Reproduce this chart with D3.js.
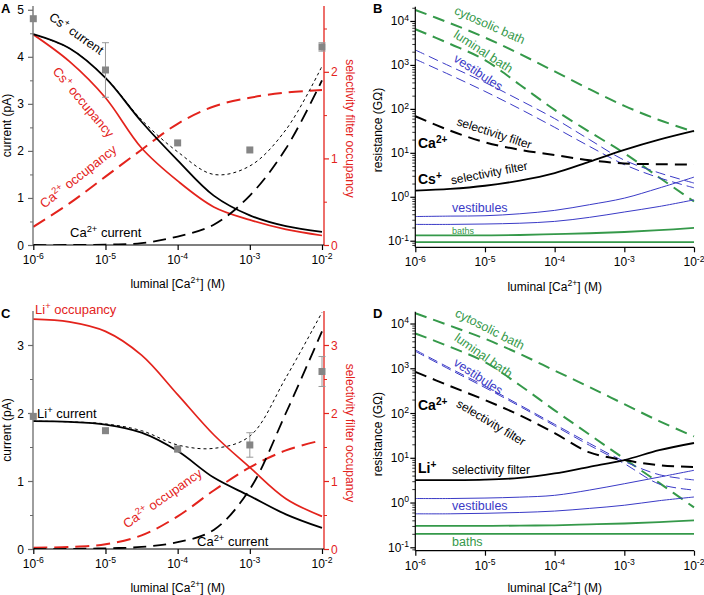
<!DOCTYPE html>
<html><head><meta charset="utf-8">
<script src="https://cdn.jsdelivr.net/npm/d3@7"></script>
<style>body{margin:0;background:#fff} svg{display:block;font-family:"Liberation Sans",Arial,Helvetica,sans-serif}</style>
</head><body><svg id="c" width="704" height="595"></svg>
<script>
// ---------- shared ----------
const conc = [1e-6, 3.162e-6, 1e-5, 3.162e-5, 1e-4, 3.162e-4, 1e-3, 3.162e-3, 1e-2];
const xTicks = [1e-6, 1e-5, 1e-4, 1e-3, 1e-2];
const xTickLabels = ["10^{-6}", "10^{-5}", "10^{-4}", "10^{-3}", "10^{-2}"];
const xTitle = "luminal [Ca^{2+}] (M)";

// ---------- panel A (Cs+) ----------
const csCurrentA = [4.48, 4.18, 3.55, 2.62, 1.80, 1.05, 0.63, 0.40, 0.28];
const caCurrentA = [0, 0, 0.01, 0.04, 0.18, 0.43, 1.05, 2.05, 3.50];
const totalCurrentA = [4.48, 4.18, 3.56, 2.66, 1.98, 1.50, 1.68, 2.45, 3.80];
const csOccA = [2.43, 2.12, 1.70, 1.12, 0.74, 0.44, 0.29, 0.18, 0.11];
const caOccA = [0.21, 0.48, 0.79, 1.10, 1.40, 1.60, 1.70, 1.76, 1.79];
const expConcA = [1e-6, 1e-5, 1e-4, 1e-3, 1e-2];
const expMeanA = [4.81, 3.72, 2.17, 2.02, 4.21];
const expErrA = [0, 0.58, 0, 0, 0.09];

// ---------- panel C (Li+) ----------
const liCurrentC = [1.88, 1.87, 1.83, 1.71, 1.44, 1.05, 0.78, 0.51, 0.31];
const caCurrentC = [0, 0, 0.01, 0.03, 0.10, 0.28, 0.88, 2.00, 3.20];
const totalCurrentC = [1.88, 1.87, 1.84, 1.74, 1.53, 1.48, 1.66, 2.52, 3.48];
const liOccC = [3.38, 3.34, 3.20, 2.85, 2.27, 1.68, 1.20, 0.74, 0.48];
const caOccC = [0.02, 0.03, 0.07, 0.20, 0.48, 0.86, 1.20, 1.45, 1.60];
const expConcC = [1e-6, 1e-5, 1e-4, 1e-3, 1e-2];
const expMeanC = [1.95, 1.74, 1.47, 1.53, 2.61];
const expErrC = [0, 0, 0.04, 0.18, 0.22];

// ---------- panel B resistances (GOhm), Cs+ ----------
const cytoBathB = [17800, 8900, 4200, 1780, 710, 280, 117, 56, 30];
const lumBathB = [6500, 3000, 1290, 355, 95, 30, 9.8, 2.75, 0.78];
const vestCaB1 = [2190, 930, 400, 158, 60, 20, 6.8, 3.5, 2.05];
const vestCaB2 = [1350, 590, 250, 100, 38, 14, 5.4, 2.7, 1.6];
const sfCaB = [68, 32, 17.4, 11.7, 8.9, 6.8, 5.75, 5.5, 5.4];
const sfCsB = [1.38, 1.51, 1.78, 2.34, 3.47, 6.3, 11.7, 20, 31.6];
const vestCsB1 = [0.355, 0.363, 0.37, 0.41, 0.49, 0.66, 0.93, 1.58, 2.8];
const vestCsB2 = [0.235, 0.235, 0.24, 0.25, 0.275, 0.34, 0.45, 0.6, 0.85];
const bathCsB1 = [0.132, 0.132, 0.132, 0.135, 0.141, 0.148, 0.158, 0.174, 0.195];
const bathCsB2 = [0.093, 0.093, 0.093, 0.093, 0.093, 0.093, 0.093, 0.093, 0.093];

// ---------- panel D resistances (GOhm), Li+ ----------
const cytoBathD = [17000, 8900, 4570, 2090, 890, 380, 158, 66, 30];
const lumBathD = [6000, 3000, 1380, 417, 115, 33, 9.5, 2.75, 0.78];
const vestCaD1 = [2570, 1000, 400, 151, 56, 21, 8.3, 4.2, 3.2];
const vestCaD2 = [2400, 930, 370, 141, 52, 19, 7.4, 2.6, 1.9];
const sfCaD = [830, 400, 195, 89, 35.5, 13.2, 8.9, 6.8, 6.2];
const sfLiD = [3.16, 3.16, 3.24, 3.55, 4.47, 6.3, 8.9, 14.8, 21.4];
const vestLiD1 = [1.23, 1.23, 1.26, 1.32, 1.45, 1.9, 2.63, 3.7, 5.25];
const vestLiD2 = [0.56, 0.56, 0.575, 0.6, 0.645, 0.74, 0.87, 1.1, 1.33];
const bathLiD1 = [0.3, 0.3, 0.3, 0.305, 0.31, 0.325, 0.34, 0.365, 0.4];
const bathLiD2 = [0.2, 0.2, 0.2, 0.2, 0.2, 0.2, 0.2, 0.2, 0.2];

const logTicks = [0.1, 1, 10, 100, 1000, 10000];
const logTickLabels = ["10^{-1}", "10^{0}", "10^{1}", "10^{2}", "10^{3}", "10^{4}"];

// ---------- styles ----------
const RED = "#e3231c", GREEN = "#35994a", BLUE = "#3a3ac6", GRAY = "#858585";
const svg = d3.select("#c");

function rich(sel, str, fs) {
  const parts = str.split(/(\^\{[^}]*\})/).filter(s => s.length);
  let shifted = false;
  parts.forEach(p => {
    if (p.startsWith("^{")) {
      sel.append("tspan").attr("dy", -fs * 0.38).attr("font-size", fs * 0.72).text(p.slice(2, -1));
      shifted = true;
    } else {
      const t = sel.append("tspan").text(p);
      if (shifted) { t.attr("dy", fs * 0.38); shifted = false; }
    }
  });
  return sel;
}
function label(g, str, o) {
  const t = g.append("text")
    .attr("transform", `translate(${o.x},${o.y}) rotate(${o.a || 0})`)
    .attr("text-anchor", o.anchor || "start")
    .attr("font-size", o.fs || 12)
    .attr("font-weight", o.bold ? "bold" : "normal")
    .attr("fill", o.c || "#000");
  rich(t, str, o.fs || 12);
}
let clipId = 0;
function drawLine(g, x, y, ys, st) {
  g.append("path")
    .datum(conc.map((c, i) => [c, ys[i]]))
    .attr("fill", "none")
    .attr("stroke", st.c)
    .attr("stroke-width", st.w)
    .attr("stroke-dasharray", st.d || null)
    .attr("d", d3.line().x(d => x(d[0])).y(d => y(d[1])).curve(d3.curveCatmullRom.alpha(0.5)));
}
function xAxis(g, x, yB, x1, titleY) {
  const ax = g.append("g").attr("transform", `translate(0,${yB})`)
    .call(d3.axisBottom(x).tickValues(xTicks).tickSize(5).tickFormat(""));
  ax.select(".domain").attr("d", `M${x.range()[0]},0H${x1}`).attr("stroke", "#000").attr("stroke-width", 1.2);
  ax.selectAll(".tick line").attr("stroke", "#000").attr("stroke-width", 1.2);
  xTicks.forEach((v, i) => label(g, xTickLabels[i], { x: x(v), y: yB + 19, anchor: "middle", fs: 12 }));
  const mid = (x.range()[0] + x.range()[1]) / 2;
  label(g, xTitle, { x: mid, y: titleY, anchor: "middle", fs: 12 });
}

// ---------- current panels ----------
function panelCurrent(cfg) {
  const g = svg.append("g");
  const x = d3.scaleLog().domain([1e-6, 1e-2]).range([33.3, 322]);
  const yL = d3.scaleLinear().domain([0, cfg.maxL]).range([cfg.yB, cfg.yT]);
  const yR = d3.scaleLinear().domain([0, cfg.maxR]).range([cfg.yB, cfg.yT]);
  const xR = 324;
  const id = "clip" + (clipId++);
  g.append("clipPath").attr("id", id).append("rect")
    .attr("x", 33).attr("y", cfg.yT - 2).attr("width", xR - 33).attr("height", cfg.yB - cfg.yT + 2);
  const pg = g.append("g").attr("clip-path", `url(#${id})`);

  const la = g.append("g").attr("transform", "translate(33,0)")
    .call(d3.axisLeft(yL).tickValues(cfg.majL).tickSize(5).tickFormat(""));
  la.select(".domain").attr("d", `M0,${cfg.yB}V${cfg.yT}`).attr("stroke", "#6a6a6a").attr("stroke-width", 1.3);
  la.selectAll(".tick line").attr("stroke", "#6a6a6a").attr("stroke-width", 1.2);
  const lm = g.append("g").attr("transform", "translate(33,0)")
    .call(d3.axisLeft(yL).tickValues(cfg.minL).tickSize(3).tickFormat(""));
  lm.select(".domain").remove();
  lm.selectAll(".tick line").attr("stroke", "#6a6a6a");
  cfg.majL.forEach(v => g.append("text").attr("x", 24).attr("y", yL(v) + 4.5)
    .attr("text-anchor", "end").attr("font-size", 12).text(v));

  const ra = g.append("g").attr("transform", `translate(${xR},0)`)
    .call(d3.axisRight(yR).tickValues(cfg.majR).tickSize(5).tickFormat(""));
  ra.select(".domain").attr("d", `M0,${cfg.yB}V${cfg.yT}`).attr("stroke", RED).attr("stroke-width", 1.3);
  ra.selectAll(".tick line").attr("stroke", RED).attr("stroke-width", 1.2);
  const rm = g.append("g").attr("transform", `translate(${xR},0)`)
    .call(d3.axisRight(yR).tickValues(cfg.minR).tickSize(3).tickFormat(""));
  rm.select(".domain").remove();
  rm.selectAll(".tick line").attr("stroke", RED);
  cfg.majR.forEach(v => g.append("text").attr("x", 331).attr("y", yR(v) + 4.5)
    .attr("font-size", 12).attr("fill", RED).text(v));

  drawLine(pg, x, yR, cfg.occCa, { c: RED, w: 2, d: "14,7" });
  drawLine(pg, x, yR, cfg.occIon, { c: RED, w: 1.7 });
  drawLine(pg, x, yL, cfg.total, { c: "#000", w: 1, d: "3,3" });
  drawLine(pg, x, yL, cfg.curCa, { c: "#000", w: 1.8, d: "13,7" });
  drawLine(pg, x, yL, cfg.curIon, { c: "#000", w: 1.8 });

  cfg.expC.forEach((c, i) => {
    const cx = x(c), m = cfg.expM[i], e = cfg.expE[i];
    if (e > 0) {
      g.append("line").attr("x1", cx).attr("x2", cx).attr("y1", yL(m - e)).attr("y2", yL(m + e)).attr("stroke", "#999").attr("stroke-width", 1);
      [m - e, m + e].forEach(v => g.append("line").attr("x1", cx - 3.5).attr("x2", cx + 3.5).attr("y1", yL(v)).attr("y2", yL(v)).attr("stroke", "#999").attr("stroke-width", 1));
    }
    g.append("rect").attr("x", cx - 3.5).attr("y", yL(m) - 3.5).attr("width", 7).attr("height", 7).attr("fill", GRAY);
  });

  xAxis(g, x, cfg.yB, xR, cfg.titleY);
  label(g, "current (pA)", { x: 11, y: (cfg.yB + cfg.yT) / 2, a: -90, anchor: "middle", fs: 12 });
  label(g, "selectivity filter occupancy", { x: 346, y: (cfg.yB + cfg.yT) / 2 + 3, a: 90, anchor: "middle", fs: 12, c: RED });
  label(g, cfg.letter, { x: 1, y: cfg.yT + 7, fs: 13, bold: true });
  cfg.labels.forEach(l => label(g, l.t, l));
}

// ---------- resistance panels ----------
function panelRes(cfg) {
  const g = svg.append("g");
  const x = d3.scaleLog().domain([1e-6, 1e-2]).range([415.3, 694]);
  const y = d3.scaleLog().domain(cfg.dom).range([cfg.yB, cfg.yT]);
  const id = "clip" + (clipId++);
  g.append("clipPath").attr("id", id).append("rect")
    .attr("x", 415).attr("y", cfg.yT).attr("width", 281).attr("height", cfg.yB - cfg.yT);
  const pg = g.append("g").attr("clip-path", `url(#${id})`);

  const minor = [];
  for (let e = -2; e <= 4; e++) for (let k = 2; k <= 9; k++) {
    const v = k * Math.pow(10, e);
    if (v > cfg.dom[0] && v < cfg.dom[1]) minor.push(v);
  }
  const la = g.append("g").attr("transform", "translate(415.3,0)")
    .call(d3.axisLeft(y).tickValues(logTicks).tickSize(5).tickFormat(""));
  la.select(".domain").attr("d", `M0,${cfg.yB}V${cfg.yT}`).attr("stroke", "#000").attr("stroke-width", 1.2);
  la.selectAll(".tick line").attr("stroke", "#000").attr("stroke-width", 1.2);
  const lm = g.append("g").attr("transform", "translate(415.3,0)")
    .call(d3.axisLeft(y).tickValues(minor).tickSize(3).tickFormat(""));
  lm.select(".domain").remove();
  lm.selectAll(".tick line").attr("stroke", "#000").attr("stroke-width", 0.8);
  logTicks.forEach((v, i) => label(g, logTickLabels[i], { x: 409, y: y(v) + 4.5, anchor: "end", fs: 12 }));

  drawLine(pg, x, y, cfg.cyto, { c: GREEN, w: 2, d: "12,7" });
  drawLine(pg, x, y, cfg.lum, { c: GREEN, w: 2, d: "12,7" });
  drawLine(pg, x, y, cfg.vc1, { c: BLUE, w: 1, d: "10,5" });
  drawLine(pg, x, y, cfg.vc2, { c: BLUE, w: 1, d: "10,5" });
  drawLine(pg, x, y, cfg.sfCa, { c: "#000", w: 2, d: "12,7" });
  drawLine(pg, x, y, cfg.sfIon, { c: "#000", w: 1.8 });
  drawLine(pg, x, y, cfg.v1, { c: BLUE, w: 1 });
  drawLine(pg, x, y, cfg.v2, { c: BLUE, w: 1 });
  drawLine(pg, x, y, cfg.b1, { c: GREEN, w: 1.8 });
  drawLine(pg, x, y, cfg.b2, { c: GREEN, w: 1.8 });

  xAxis(g, x, cfg.yB, 694, cfg.titleY);
  label(g, "resistance (GΩ)", { x: 382, y: (cfg.yB + cfg.yT) / 2 + 3, a: -90, anchor: "middle", fs: 12 });
  label(g, cfg.letter, { x: 373, y: cfg.yT + 6, fs: 13, bold: true });
  cfg.labels.forEach(l => label(g, l.t, l));
}

panelCurrent({
  letter: "A", yT: 6, yB: 245, maxL: 5.08, maxR: 2.76, titleY: 288,
  majL: [0, 1, 2, 3, 4, 5], minL: [0.5, 1.5, 2.5, 3.5, 4.5],
  majR: [0, 1, 2], minR: [0.5, 1.5, 2.5],
  curIon: csCurrentA, curCa: caCurrentA, total: totalCurrentA, occIon: csOccA, occCa: caOccA,
  expC: expConcA, expM: expMeanA, expE: expErrA,
  labels: [
    { t: "Cs^{+} current", x: 74, y: 37, a: 35, anchor: "middle", fs: 12.5 },
    { t: "Cs^{+} occupancy", x: 80, y: 105, a: 50, anchor: "middle", fs: 13, c: RED },
    { t: "Ca^{2+} occupancy", x: 81, y: 180, a: -38, anchor: "middle", fs: 13, c: RED },
    { t: "Ca^{2+} current", x: 70, y: 237, fs: 13 }
  ]
});
panelCurrent({
  letter: "C", yT: 311, yB: 549, maxL: 3.5, maxR: 3.5, titleY: 592,
  majL: [0, 1, 2, 3], minL: [0.5, 1.5, 2.5],
  majR: [0, 1, 2, 3], minR: [0.5, 1.5, 2.5],
  curIon: liCurrentC, curCa: caCurrentC, total: totalCurrentC, occIon: liOccC, occCa: caOccC,
  expC: expConcC, expM: expMeanC, expE: expErrC,
  labels: [
    { t: "Li^{+} occupancy", x: 35, y: 314, fs: 13, c: RED },
    { t: "Li^{+} current", x: 37, y: 418, fs: 13 },
    { t: "Ca^{2+} occupancy", x: 165, y: 502, a: -35, anchor: "middle", fs: 13, c: RED },
    { t: "Ca^{2+} current", x: 197, y: 546, fs: 13 }
  ]
});
panelRes({
  letter: "B", yT: 6.7, yB: 247.3, dom: [Math.pow(10, -1.15), Math.pow(10, 4.325)], titleY: 291,
  cyto: cytoBathB, lum: lumBathB, vc1: vestCaB1, vc2: vestCaB2, sfCa: sfCaB, sfIon: sfCsB,
  v1: vestCsB1, v2: vestCsB2, b1: bathCsB1, b2: bathCsB2,
  labels: [
    { t: "cytosolic bath", x: 488, y: 29, a: 24, anchor: "middle", fs: 12.5, c: GREEN },
    { t: "luminal bath", x: 481, y: 55, a: 33, anchor: "middle", fs: 12.5, c: GREEN },
    { t: "vestibules", x: 476, y: 76, a: 33, anchor: "middle", fs: 12.5, c: BLUE },
    { t: "selectivity filter", x: 493, y: 137, a: 18, anchor: "middle", fs: 12 },
    { t: "Ca^{2+}", x: 418, y: 148, fs: 14, bold: true },
    { t: "Cs^{+}", x: 418, y: 184, fs: 14, bold: true },
    { t: "selectivity filter", x: 490, y: 177, a: -11, anchor: "middle", fs: 12 },
    { t: "vestibules", x: 452, y: 212, fs: 12.5, c: BLUE },
    { t: "baths", x: 452, y: 234, fs: 9, c: GREEN }
  ]
});
panelRes({
  letter: "D", yT: 311.7, yB: 550.7, dom: [Math.pow(10, -1.076), Math.pow(10, 4.264)], titleY: 592,
  cyto: cytoBathD, lum: lumBathD, vc1: vestCaD1, vc2: vestCaD2, sfCa: sfCaD, sfIon: sfLiD,
  v1: vestLiD1, v2: vestLiD2, b1: bathLiD1, b2: bathLiD2,
  labels: [
    { t: "cytosolic bath", x: 488, y: 333, a: 27, anchor: "middle", fs: 12.5, c: GREEN },
    { t: "luminal bath", x: 481, y: 359, a: 35, anchor: "middle", fs: 12.5, c: GREEN },
    { t: "vestibules", x: 476, y: 380, a: 33, anchor: "middle", fs: 12.5, c: BLUE },
    { t: "Ca^{2+}", x: 418, y: 410, fs: 14, bold: true },
    { t: "selectivity filter", x: 489, y: 426, a: 31, anchor: "middle", fs: 12 },
    { t: "Li^{+}", x: 418, y: 473, fs: 14, bold: true },
    { t: "selectivity filter", x: 452, y: 474, fs: 12 },
    { t: "vestibules", x: 452, y: 510, fs: 12.5, c: BLUE },
    { t: "baths", x: 452, y: 546, fs: 12.5, c: GREEN }
  ]
});
</script></body></html>
